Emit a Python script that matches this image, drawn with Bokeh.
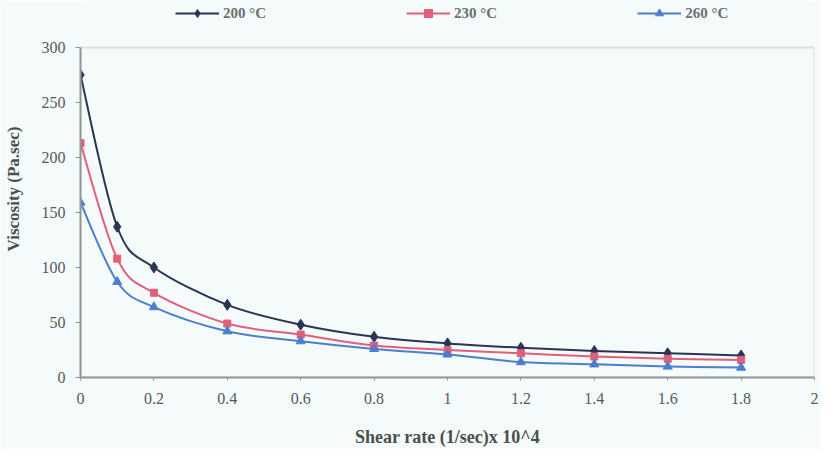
from bokeh.plotting import figure
from bokeh.models import (Legend, LegendItem, CustomJSTickFormatter, Range1d, FixedTicker,
                          BoxAnnotation)
from bokeh.embed import file_html
from bokeh.resources import INLINE

shear = [0, 0.1, 0.2, 0.4, 0.6, 0.8, 1.0, 1.2, 1.4, 1.6, 1.8]
v200 = [275, 137, 100, 66, 48, 37, 31, 27, 24, 22, 20]
v230 = [213, 108, 77, 49, 39, 29, 25, 22, 19, 17, 16]
v260 = [159, 87, 64, 42, 33, 26, 21, 14, 12, 10, 9]
series_names = ["200 \u00b0C", "230 \u00b0C", "260 \u00b0C"]
x_ticks = [0, 0.2, 0.4, 0.6, 0.8, 1.0, 1.2, 1.4, 1.6, 1.8, 2.0]
y_ticks = [0, 50, 100, 150, 200, 250, 300]
Y_MAX = 300
X_MAX = 2

colors = ["#2b3452", "#e0607c", "#4a7fd0"]
FONT = "Liberation Serif"
BG = "#f5fafa"

H = 449
BOTTOM = 71
TOP_GAP = 47  # pixels from figure top to the y=300 line
frame_h = H - BOTTOM
y_top = Y_MAX * frame_h / (frame_h - TOP_GAP)

p = figure(width=820, height=H, output_backend="svg", toolbar_location=None,
           x_range=Range1d(0, X_MAX), y_range=Range1d(0, y_top),
           min_border_left=80, min_border_right=6, min_border_top=0, min_border_bottom=BOTTOM,
           background_fill_color=BG, border_fill_color=BG)
p.grid.visible = False
p.outline_line_color = None
p.add_layout(BoxAnnotation(left=0, right=X_MAX, bottom=0, top=Y_MAX, fill_alpha=0,
                           line_color="#a3aaaa", line_width=2))


def smooth(xs, ys):
    n = len(xs)
    x0, y0, x1, y1, cx0, cy0, cx1, cy1 = [], [], [], [], [], [], [], []
    for i in range(n - 1):
        xm = xs[i - 1] if i > 0 else xs[i]
        ym = ys[i - 1] if i > 0 else ys[i]
        xp = xs[i + 2] if i + 2 < n else xs[i + 1]
        yp = ys[i + 2] if i + 2 < n else ys[i + 1]
        x0.append(xs[i]); y0.append(ys[i])
        x1.append(xs[i + 1]); y1.append(ys[i + 1])
        cx0.append(xs[i] + (xs[i + 1] - xm) / 6.0)
        cy0.append(ys[i] + (ys[i + 1] - ym) / 6.0)
        cx1.append(xs[i + 1] - (xp - xs[i]) / 6.0)
        cy1.append(ys[i + 1] - (yp - ys[i]) / 6.0)
    return dict(x0=x0, y0=y0, x1=x1, y1=y1, cx0=cx0, cy0=cy0, cx1=cx1, cy1=cy1)


items = []
markers = ["diamond", "square", "triangle"]
sizes = [11, 7, 9]
for ys, col, mk, sz, name in zip([v200, v230, v260], colors, markers, sizes, series_names):
    b = smooth(shear, ys)
    p.bezier(x0=b["x0"], y0=b["y0"], x1=b["x1"], y1=b["y1"],
             cx0=b["cx0"], cy0=b["cy0"], cx1=b["cx1"], cy1=b["cy1"],
             line_color=col, line_width=2)
    sc = p.scatter(shear, ys, marker=mk, size=sz, fill_color=col, line_color=col)
    ln2 = p.line([0], [0], line_color=col, line_width=2, visible=False)
    items.append(LegendItem(label=name, renderers=[ln2, sc]))

legend = Legend(items=items, orientation="horizontal", location=(95, frame_h - 24),
                spacing=140, glyph_width=44, label_standoff=4, padding=0, margin=0,
                background_fill_alpha=0, border_line_alpha=0,
                label_text_font=FONT, label_text_font_size="15px",
                label_text_font_style="bold", label_text_color="#6a7070")
p.add_layout(legend, "center")

for ax in (p.xaxis, p.yaxis):
    ax.axis_line_color = "#8d9595"
    ax.axis_line_width = 2
    ax.major_tick_line_color = "#8d9595"
    ax.minor_tick_line_color = None
    ax.major_tick_in = 0
    ax.major_label_text_font = FONT
    ax.major_label_text_font_size = "16px"
    ax.major_label_text_color = "#555a5a"
    ax.axis_label_text_font = FONT
    ax.axis_label_text_font_style = "bold"
    ax.axis_label_text_color = "#4a4f4f"

p.yaxis.bounds = (0, Y_MAX)
p.xaxis.ticker = FixedTicker(ticks=x_ticks)
p.yaxis.ticker = FixedTicker(ticks=y_ticks)
p.xaxis.formatter = CustomJSTickFormatter(code="return tick.toFixed(1).replace(/\\.0$/, '');")
p.xaxis.major_tick_out = 3
p.yaxis.major_tick_out = 5
p.xaxis.major_label_standoff = 12
p.yaxis.major_label_standoff = 10
p.xaxis.axis_label = "Shear rate (1/sec)x 10^4"
p.yaxis.axis_label = "Viscosity (Pa.sec)"
p.xaxis.axis_label_text_font_size = "18px"
p.yaxis.axis_label_text_font_size = "17px"
p.xaxis.axis_label_standoff = 20
p.yaxis.axis_label_standoff = 16

open("out.html", "w").write(file_html(p, INLINE))
